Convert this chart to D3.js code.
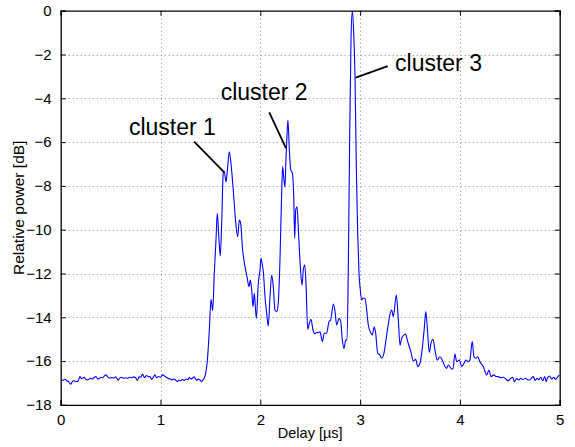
<!DOCTYPE html>
<html><head><meta charset="utf-8">
<script src="https://cdn.jsdelivr.net/npm/d3@7"></script>
<style>body{margin:0;background:#fff}svg{display:block}text{font-family:"Liberation Sans",Arial,Helvetica,sans-serif}</style>
</head><body>
<script>
const delay = [0,0.02,0.043,0.06,0.077,0.1,0.115,0.127,0.145,0.167,0.18,0.193,0.207,0.22,0.235,0.25,0.267,0.28,0.3,0.315,0.33,0.354,0.37,0.385,0.4,0.42,0.437,0.454,0.47,0.49,0.51,0.53,0.55,0.577,0.59,0.61,0.63,0.65,0.67,0.69,0.71,0.73,0.75,0.768,0.785,0.8,0.821,0.84,0.86,0.88,0.895,0.912,0.93,0.945,0.96,0.98,1.0,1.022,1.04,1.06,1.08,1.1,1.112,1.13,1.15,1.169,1.185,1.2,1.22,1.24,1.26,1.275,1.289,1.305,1.32,1.336,1.35,1.363,1.38,1.395,1.413,1.425,1.436,1.453,1.47,1.489,1.506,1.523,1.539,1.556,1.569,1.586,1.599,1.613,1.629,1.639,1.656,1.669,1.689,1.706,1.729,1.749,1.773,1.79,1.803,1.823,1.847,1.867,1.887,1.9,1.914,1.927,1.94,1.96,1.98,1.997,2.007,2.02,2.03,2.047,2.064,2.08,2.097,2.114,2.13,2.147,2.164,2.18,2.197,2.214,2.224,2.237,2.247,2.257,2.267,2.277,2.291,2.305,2.321,2.335,2.345,2.355,2.368,2.385,2.401,2.418,2.431,2.445,2.458,2.475,2.491,2.508,2.528,2.548,2.565,2.581,2.598,2.622,2.641,2.665,2.688,2.705,2.732,2.748,2.765,2.789,2.806,2.822,2.839,2.856,2.869,2.882,2.896,2.909,2.922,2.936,2.949,2.962,2.976,2.989,3.002,3.016,3.029,3.049,3.066,3.082,3.109,3.122,3.142,3.156,3.176,3.199,3.216,3.239,3.259,3.283,3.303,3.317,3.333,3.363,3.383,3.4,3.416,3.426,3.456,3.473,3.49,3.51,3.533,3.557,3.577,3.6,3.627,3.643,3.658,3.673,3.693,3.71,3.73,3.75,3.773,3.8,3.823,3.85,3.867,3.884,3.91,3.93,3.95,3.968,3.994,4.018,4.041,4.061,4.084,4.1,4.124,4.141,4.161,4.178,4.2,4.234,4.268,4.291,4.311,4.341,4.36,4.385,4.41,4.435,4.46,4.485,4.51,4.53,4.545,4.57,4.59,4.61,4.63,4.66,4.68,4.702,4.72,4.735,4.755,4.775,4.79,4.81,4.83,4.85,4.865,4.88,4.9,4.92,4.94,4.96,4.98,5.0];
const power = [-16.86,-16.88,-16.83,-16.9,-16.93,-17.05,-16.95,-16.9,-16.92,-16.93,-16.85,-16.7,-16.8,-16.78,-16.74,-16.82,-16.86,-16.84,-16.78,-16.82,-16.76,-16.7,-16.81,-16.8,-16.74,-16.76,-16.68,-16.63,-16.72,-16.78,-16.75,-16.78,-16.72,-16.88,-16.78,-16.74,-16.78,-16.76,-16.78,-16.74,-16.76,-16.72,-16.76,-16.88,-16.72,-16.74,-16.6,-16.76,-16.66,-16.72,-16.7,-16.84,-16.72,-16.63,-16.76,-16.7,-16.74,-16.63,-16.68,-16.74,-16.8,-16.82,-16.86,-16.82,-16.86,-16.93,-16.86,-16.9,-16.84,-16.88,-16.82,-16.85,-16.74,-16.82,-16.78,-16.72,-16.8,-16.88,-16.82,-16.86,-16.93,-16.86,-16.8,-16.56,-15.95,-14.6,-13.18,-13.7,-11.99,-10.47,-9.25,-10.47,-11.2,-9.71,-7.42,-7.35,-7.81,-7.35,-6.44,-6.97,-8.19,-9.41,-10.32,-9.56,-9.71,-10.93,-11.69,-12.15,-12.6,-12.3,-12.75,-13.52,-12.9,-14.05,-12.45,-11.84,-11.31,-11.6,-11.9,-13.06,-13.82,-14.4,-13.06,-12.07,-12.6,-13.67,-13.74,-13.36,-11.38,-8.34,-7.12,-7.73,-8.04,-6.82,-5.75,-4.99,-6.36,-7.27,-7.42,-8.49,-10.39,-9.1,-8.95,-10.32,-11.69,-12.53,-11.84,-11.61,-12.45,-14.55,-14.27,-14.09,-14.58,-14.76,-14.68,-14.7,-14.66,-15.11,-14.73,-14.73,-14.2,-14.12,-13.39,-13.7,-14.35,-14.05,-14.2,-15.04,-15.42,-15.04,-15.04,-11.69,-5.6,-1.34,0,-1.03,-3.01,-7.12,-10.16,-11.99,-12.75,-13.21,-13.13,-13.13,-13.67,-14.35,-14.73,-14.81,-14.43,-14.73,-15.64,-15.72,-15.87,-15.64,-15.04,-14.3,-13.8,-13.67,-13.97,-12.98,-14.12,-15.27,-14.96,-14.88,-14.76,-15.04,-15.3,-15.6,-16.0,-15.92,-16.25,-16.1,-15.25,-14.5,-13.74,-14.43,-15.6,-15.19,-15.0,-15.49,-15.95,-15.8,-15.95,-16.25,-16.33,-16.18,-16.33,-16.37,-15.68,-16.03,-15.95,-16.25,-16.1,-15.95,-16.03,-15.95,-15.11,-15.8,-15.87,-15.8,-16.03,-16.25,-16.63,-16.41,-16.71,-16.63,-16.7,-16.71,-16.76,-16.74,-16.82,-16.9,-16.78,-16.74,-16.94,-16.8,-16.86,-16.79,-16.84,-16.78,-16.86,-16.86,-16.76,-16.71,-16.88,-16.78,-16.86,-16.74,-16.9,-16.7,-16.94,-16.74,-16.68,-16.82,-16.74,-16.84,-16.72,-16.63];

const xTicks = [0,1,2,3,4,5];
const yTicks = [0,-2,-4,-6,-8,-10,-12,-14,-16,-18];
const xLabel = "Delay [µs]";
const yLabel = "Relative power [dB]";
const annoText = ["cluster 1","cluster 2","cluster 3"];
const annoTextX = [0.684,1.603,3.35];
const annoTextY = [-5.68,-4.08,-2.74];
const annoFromX = [1.337,2.09,3.277];
const annoFromY = [-5.98,-4.64,-2.53];
const annoToX = [1.639,2.257,2.956];
const annoToY = [-7.38,-6.28,-3.06];

const W = 575, H = 447;
const L = 60.7, R = 559.7, T = 10.7, B = 404.9;
const x = d3.scaleLinear().domain([0,5]).range([L,R]);
const y = d3.scaleLinear().domain([-18,0]).range([B,T]);
const fmt = v => v < 0 ? "\u2212" + Math.abs(v) : String(v);

const svg = d3.select("body").append("svg").attr("width",W).attr("height",H);
svg.append("rect").attr("width",W).attr("height",H).attr("fill","#fff");

// grid
const grid = svg.append("g").attr("stroke","#8a8a8a").attr("stroke-width",1).attr("stroke-dasharray","1,3");
grid.selectAll(".gx").data(xTicks.slice(1,-1)).join("line")
  .attr("x1",d=>Math.round(x(d))+0.5).attr("x2",d=>Math.round(x(d))+0.5).attr("y1",T).attr("y2",B);
grid.selectAll(".gy").data(yTicks.slice(1,-1)).join("line")
  .attr("y1",d=>Math.round(y(d))+0.5).attr("y2",d=>Math.round(y(d))+0.5).attr("x1",L).attr("x2",R);

// clip
svg.append("clipPath").attr("id","clip").append("rect").attr("x",L).attr("y",T).attr("width",R-L).attr("height",B-T);

const pts = delay.map((d,i)=>[d,power[i]]);
svg.append("path").datum(pts).attr("clip-path","url(#clip)")
  .attr("fill","none").attr("stroke","#0000ff").attr("stroke-width",1.1)
  .attr("stroke-linejoin","round")
  .attr("d", d3.line().x(d=>x(d[0])).y(d=>y(d[1])).curve(d3.curveMonotoneX));

// axes (inward ticks, both sides)
const ax = svg.append("g");
const gBottom = ax.append("g").attr("transform",`translate(0,${B})`).call(d3.axisBottom(x).tickValues(xTicks).tickSize(-5).tickPadding(9).tickFormat(fmt));
const gTop = ax.append("g").attr("transform",`translate(0,${T})`).call(d3.axisTop(x).tickValues(xTicks).tickSize(-5).tickFormat(""));
const gLeft = ax.append("g").attr("transform",`translate(${L},0)`).call(d3.axisLeft(y).tickValues(yTicks).tickSize(-5).tickPadding(9).tickFormat(fmt));
const gRight = ax.append("g").attr("transform",`translate(${R},0)`).call(d3.axisRight(y).tickValues(yTicks).tickSize(-5).tickFormat(""));
[gBottom,gTop,gLeft,gRight].forEach(g=>{
  g.selectAll("path.domain").attr("stroke","#000").attr("stroke-width",1.3);
  g.selectAll(".tick line").attr("stroke","#000").attr("stroke-width",1);
  g.selectAll("text").attr("fill","#000").attr("font-family","'Liberation Sans',Arial,sans-serif").attr("font-size",15);
});

// axis labels
svg.append("text").attr("x",(L+R)/2).attr("y",438).attr("text-anchor","middle").attr("font-size",14.5).text(xLabel);
svg.append("text").attr("transform",`translate(24,${(T+B)/2}) rotate(-90)`).attr("text-anchor","middle").attr("font-size",15.5).text(yLabel);

// annotations
const an = svg.append("g");
annoText.forEach((t,i)=>{
  an.append("line").attr("x1",x(annoFromX[i])).attr("y1",y(annoFromY[i])).attr("x2",x(annoToX[i])).attr("y2",y(annoToY[i]))
    .attr("stroke","#000").attr("stroke-width",1.8);
  an.append("text").attr("x",x(annoTextX[i])).attr("y",y(annoTextY[i])).attr("font-size",23).attr("fill","#000").text(t);
});
</script>
</body></html>
